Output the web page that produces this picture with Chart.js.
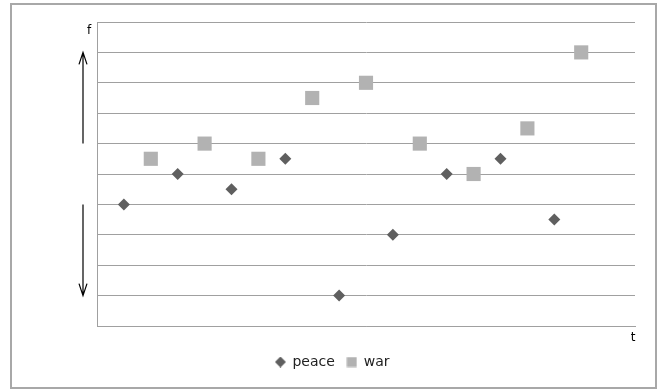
<!DOCTYPE html>
<html>
<head>
<meta charset="utf-8">
<script src="https://cdn.jsdelivr.net/npm/chart.js@4/dist/chart.umd.min.js"></script>
<style>
  html, body { margin: 0; padding: 0; background: #fff; }
  #wrap { position: relative; width: 665px; height: 390px; }
  #frame { position: absolute; left: 10px; top: 3px; width: 643px; height: 382px; border: 2px solid #a8a8a8; pointer-events: none; }
  canvas { position: absolute; left: 0; top: 0; }
</style>
</head>
<body>
<div id="wrap">
  <canvas id="chart" width="665" height="390"></canvas>
  <div id="frame"></div>
</div>
<script>
// positions along t (category slots 1..18)
const peaceT = [1, 3, 5, 7, 9, 11, 13, 15, 17];
const peaceF = [4, 5, 4.5, 5.5, 1, 3, 5, 5.5, 3.5];
const warT = [2, 4, 6, 8, 10, 12, 14, 16, 18];
const warF = [5.5, 6, 5.5, 7.5, 8, 6, 5, 6.5, 9];

// arrows beside the f axis, in f units: [from, to]
const upArrow = [6, 9];
const downArrow = [4, 1];

const peaceColor = '#5f5f5f';
const warColor = '#b2b2b2';

const toPoints = (xs, ys) => xs.map((x, i) => ({ x: x, y: ys[i] }));

// small legend markers, a bit smaller than the plotted ones
function marker(kind, color) {
  const c = document.createElement('canvas');
  c.width = 11; c.height = 11;
  const g = c.getContext('2d');
  g.fillStyle = color;
  if (kind === 'diamond') {
    g.beginPath();
    g.moveTo(5.5, 0); g.lineTo(11, 5.5); g.lineTo(5.5, 11); g.lineTo(0, 5.5);
    g.closePath();
    g.fill();
  } else {
    g.fillRect(0.5, 0.5, 10, 10);
  }
  return c;
}
const legendMarks = [marker('diamond', peaceColor), marker('square', warColor)];

// draws the two arrows and the axis letters f and t
const axisMarks = {
  id: 'axisMarks',
  afterDraw(chart) {
    const ctx = chart.ctx;
    const xs = chart.scales.x, ys = chart.scales.y;
    const ax = xs.left - 14;
    ctx.save();
    ctx.strokeStyle = '#000';
    ctx.lineWidth = 1.2;
    [upArrow, downArrow].forEach(a => {
      const y0 = ys.getPixelForValue(a[0]);
      const y1 = ys.getPixelForValue(a[1]);
      const dir = y1 < y0 ? 1 : -1;
      ctx.beginPath();
      ctx.moveTo(ax, y0);
      ctx.lineTo(ax, y1);
      ctx.moveTo(ax - 4, y1 + dir * 12);
      ctx.lineTo(ax, y1);
      ctx.lineTo(ax + 4, y1 + dir * 12);
      ctx.stroke();
    });
    ctx.fillStyle = '#000';
    ctx.font = '12px "DejaVu Sans"';
    ctx.textAlign = 'center';
    ctx.textBaseline = 'middle';
    ctx.fillText('f', xs.left - 8, ys.getPixelForValue(9.7));
    ctx.fillText('t', xs.right - 2, ys.bottom + 12);
    ctx.restore();
  }
};

new Chart(document.getElementById('chart'), {
  type: 'scatter',
  data: {
    datasets: [
      {
        label: 'peace',
        data: toPoints(peaceT, peaceF),
        pointStyle: 'rectRot',
        pointRadius: 6,
        pointHoverRadius: 6,
        backgroundColor: peaceColor,
        borderColor: peaceColor,
        borderWidth: 0
      },
      {
        label: 'war',
        data: toPoints(warT, warF),
        pointStyle: 'rect',
        pointRadius: 10,
        pointHoverRadius: 10,
        backgroundColor: warColor,
        borderColor: warColor,
        borderWidth: 0
      }
    ]
  },
  options: {
    responsive: false,
    animation: false,
    layout: { padding: { left: 0, right: 0, top: 22, bottom: 11 } },
    scales: {
      x: {
        type: 'linear',
        min: 0,
        max: 20,
        ticks: { display: false },
        grid: { display: false },
        border: { display: true, color: '#a0a0a0', width: 1 },
        afterFit(scale) { scale.height = 17; }
      },
      y: {
        min: 0,
        max: 10,
        ticks: { display: false, stepSize: 1 },
        grid: { color: '#a0a0a0', drawTicks: false },
        border: { display: true, color: '#a0a0a0', width: 1 },
        afterFit(scale) { scale.width = 97; }
      },
      yRight: {
        position: 'right',
        min: 0,
        max: 10,
        ticks: { display: false },
        grid: { display: false },
        border: { display: false },
        afterFit(scale) { scale.width = 30; }
      }
    },
    plugins: {
      tooltip: { enabled: false },
      legend: {
        position: 'bottom',
        labels: {
          usePointStyle: true,
          boxWidth: 10,
          boxHeight: 10,
          padding: 12,
          color: '#222',
          font: { family: '"DejaVu Sans"', size: 14 },
          generateLabels(chart) {
            const items = Chart.defaults.plugins.legend.labels.generateLabels(chart);
            items.forEach((it, i) => { it.pointStyle = legendMarks[i]; });
            return items;
          }
        }
      }
    }
  },
  plugins: [axisMarks]
});
</script>
</body>
</html>
